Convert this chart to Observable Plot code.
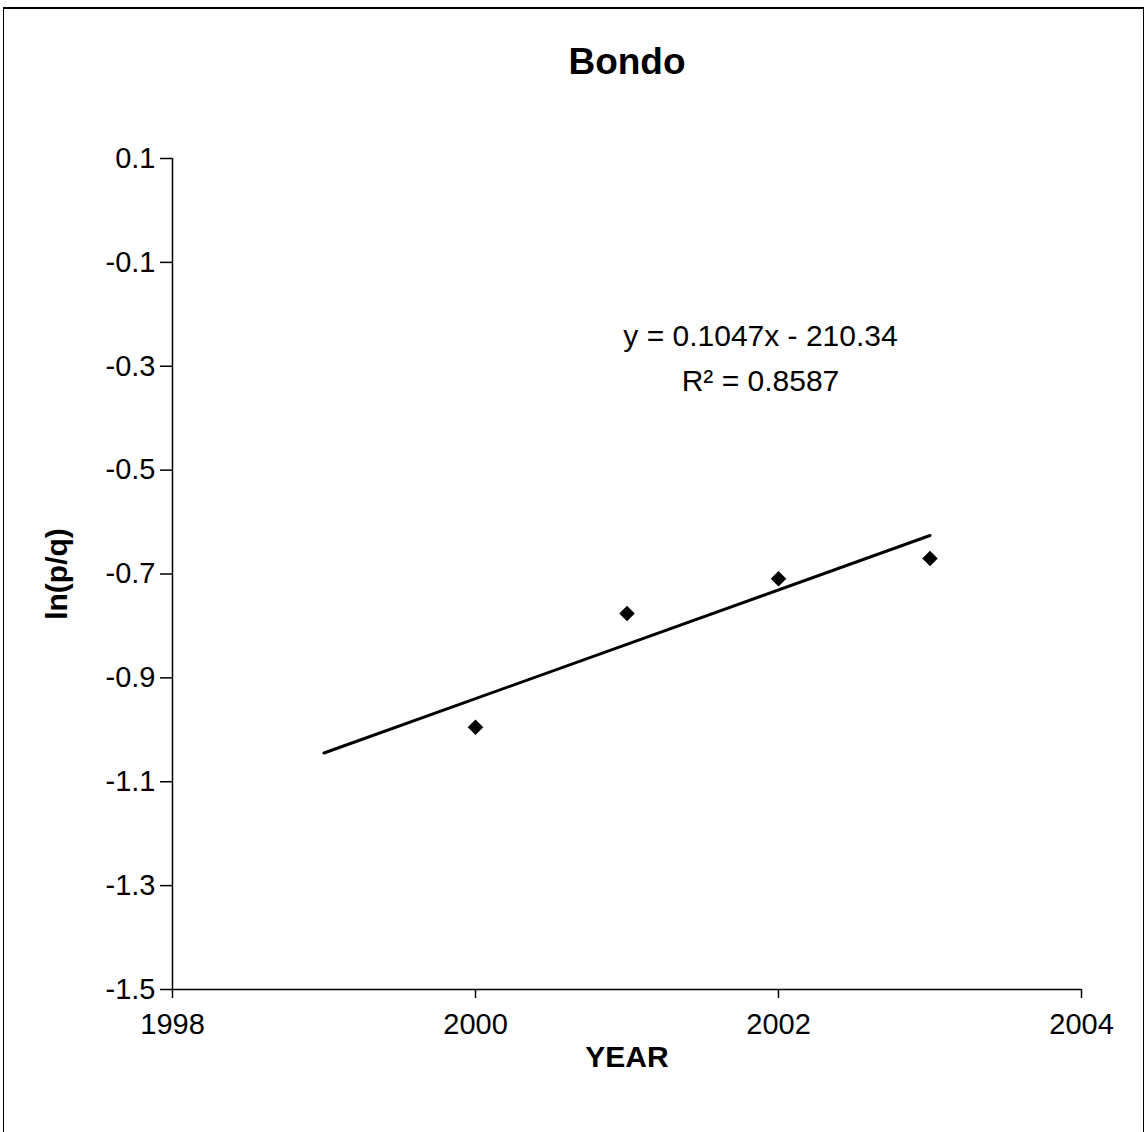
<!DOCTYPE html>
<html>
<head>
<meta charset="utf-8">
<script src="https://cdn.jsdelivr.net/npm/d3@7"></script>
<script src="https://cdn.jsdelivr.net/npm/@observablehq/plot@0.6"></script>
<style>
  html, body { margin: 0; padding: 0; background: #fff; }
  #wrap { position: relative; width: 1148px; height: 1132px; overflow: hidden; }
  #frame { position: absolute; left: 3px; top: 7px; width: 1139px; height: 1130px;
           border-top: 2px solid #000; border-left: 1.5px solid #000; border-right: 1.5px solid #000; }
  #chart { position: absolute; left: 0; top: 0; }
</style>
</head>
<body>
<div id="wrap"><div id="frame"></div><div id="chart"></div></div>
<script>
// Data
const years = [2000, 2001, 2002, 2003];
const lnpq = [-0.995, -0.776, -0.709, -0.670];

// Excel trend line y = 0.1047x - 210.34, drawn from 1999 to 2003
const trendSlope = 0.1047;
const trendIntercept = -210.34;
const trendYears = [1999, 2003];
const trendValues = trendYears.map(x => trendSlope * x + trendIntercept);

const xTicks = [1998, 2000, 2002, 2004];
const yTicks = [0.1, -0.1, -0.3, -0.5, -0.7, -0.9, -1.1, -1.3, -1.5];

const titleText = "Bondo";
const xLabel = "YEAR";
const yLabel = "ln(p/q)";
const eqLines = ["y = 0.1047x - 210.34", "R² = 0.8587"];

const points = years.map((y, i) => ({year: y, v: lnpq[i]}));
const trend = trendYears.map((y, i) => ({year: y, v: trendValues[i]}));

const font = "'Liberation Sans', Arial, Helvetica, sans-serif";

const chart = Plot.plot({
  width: 1148,
  height: 1132,
  marginLeft: 172,
  marginRight: 67,
  marginTop: 158,
  marginBottom: 143,
  style: {fontFamily: font, fontSize: "29px", color: "#000", background: "transparent"},
  x: {domain: [1998, 2004]},
  y: {domain: [-1.5, 0.1]},
  marks: [
    Plot.axisX({ticks: xTicks, tickSize: 9, tickPadding: 15, tickFormat: d => String(d), label: null, strokeWidth: 1.5, fontSize: 29}),
    Plot.axisY({ticks: yTicks, tickSize: 12, tickPadding: 5, tickFormat: d => d.toFixed(1), label: null, strokeWidth: 1.5, fontSize: 29}),
    Plot.ruleX([1998], {stroke: "#000", strokeWidth: 1.5}),
    Plot.ruleY([-1.5], {stroke: "#000", strokeWidth: 1.5}),
    Plot.line(trend, {x: "year", y: "v", stroke: "#000", strokeWidth: 3}),
    Plot.dot(points, {x: "year", y: "v", symbol: "diamond2", r: 7, fill: "#000", stroke: "none"}),
    Plot.text([titleText], {frameAnchor: "top", dy: -96, lineAnchor: "middle", fontSize: 37, fontWeight: "bold"}),
    Plot.text([xLabel], {frameAnchor: "bottom", dy: 68, lineAnchor: "middle", fontSize: 30, fontWeight: "bold"}),
    Plot.text([yLabel], {frameAnchor: "left", dx: -115, rotate: -90, textAnchor: "middle", lineAnchor: "middle", fontSize: 30, fontWeight: "bold"}),
    Plot.text([eqLines[0]], {frameAnchor: "top-left", dx: 588, dy: 178, textAnchor: "middle", lineAnchor: "middle", fontSize: 30}),
    Plot.text([eqLines[1]], {frameAnchor: "top-left", dx: 588, dy: 223, textAnchor: "middle", lineAnchor: "middle", fontSize: 30})
  ]
});
document.getElementById("chart").appendChild(chart);
</script>
</body>
</html>
